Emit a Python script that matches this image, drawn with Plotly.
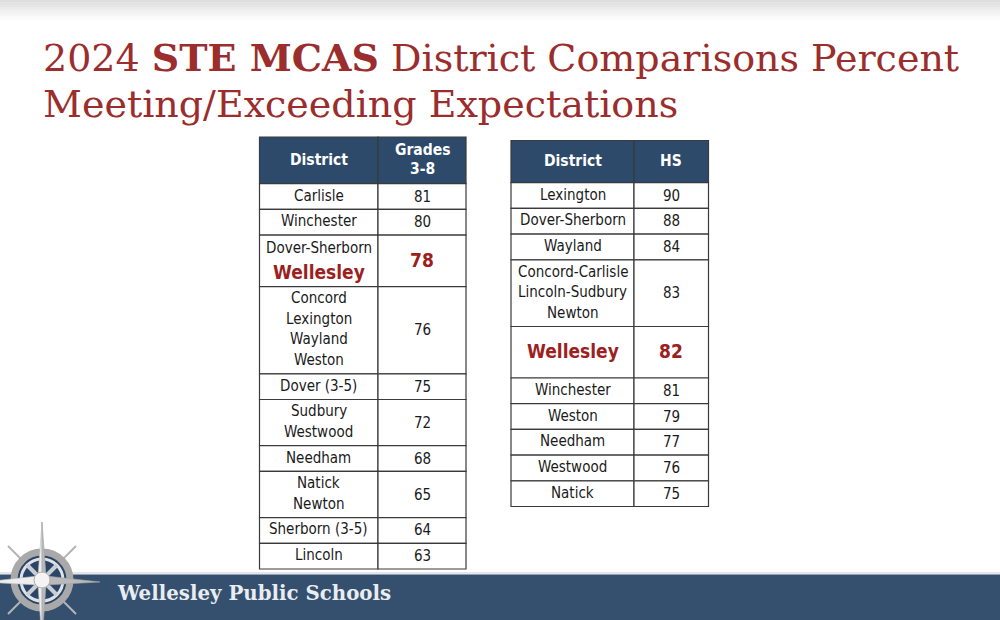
import plotly.graph_objects as go

# ---------------- data ----------------
title_line1 = "2024 <b>STE MCAS</b> District Comparisons Percent"
title_line2 = "Meeting/Exceeding Expectations"
footer_text = "Wellesley Public Schools"
highlight = "Wellesley"

left_header = ["District", "Grades<br>3-8"]
left_districts = [
    ["Carlisle"],
    ["Winchester"],
    ["Dover-Sherborn", "Wellesley"],
    ["Concord", "Lexington", "Wayland", "Weston"],
    ["Dover (3-5)"],
    ["Sudbury", "Westwood"],
    ["Needham"],
    ["Natick", "Newton"],
    ["Sherborn (3-5)"],
    ["Lincoln"],
]
left_values = [81, 80, 78, 76, 75, 72, 68, 65, 64, 63]

right_header = ["District", "HS"]
right_districts = [
    ["Lexington"],
    ["Dover-Sherborn"],
    ["Wayland"],
    ["Concord-Carlisle", "Lincoln-Sudbury", "Newton"],
    ["Wellesley"],
    ["Winchester"],
    ["Weston"],
    ["Needham"],
    ["Westwood"],
    ["Natick"],
]
right_values = [90, 88, 84, 83, 82, 81, 79, 77, 76, 75]

# ---------------- style ----------------
W, H = 1000, 620
TITLE_RED = "#9b2d2d"
HL_RED = "#9c2020"
NAVY = "#2e4a6a"
FOOT = "#34506e"
BORDER = "#3a3a3a"
BODY_FONT = "Tahoma, 'DejaVu Sans Condensed', 'Liberation Sans', Arial, sans-serif"
SERIF = "Georgia, 'DejaVu Serif', serif"
BODY_SIZE = 15
HL_SIZE = 19
LINE_H = 20.5
ROW_H1 = 25.7
HL_MIN = 51.5
HL_PITCH = 24

shapes = []
annotations = []


def rect(x0, y0, x1, y1, fill, line_color=BORDER, lw=1.2):
    shapes.append(dict(type="rect", xref="x", yref="y", x0=x0, y0=y0, x1=x1, y1=y1,
                       fillcolor=fill, line=dict(color=line_color, width=lw), layer="above"))


def text(x, y, s, size=BODY_SIZE, color="#1a1a1a", bold=False, family=BODY_FONT,
         xanchor="center", yanchor="middle"):
    if bold:
        s = "<b>" + s + "</b>"
    annotations.append(dict(x=x, y=y, xref="x", yref="y", text=s, showarrow=False,
                            xanchor=xanchor, yanchor=yanchor,
                            font=dict(family=family, size=size, color=color)))


def draw_table(x_edges, y_top, header_h, header, districts, values):
    xa, xb, xc = x_edges
    centers = [(xa + xb) / 2, (xb + xc) / 2]
    # header
    rect(xa, y_top, xb, y_top + header_h, NAVY)
    rect(xb, y_top, xc, y_top + header_h, NAVY)
    hc = y_top + header_h / 2
    for cx, lab in zip(centers, header):
        parts = lab.split("<br>")
        start = hc - 19 * (len(parts) - 1) / 2
        for k, p in enumerate(parts):
            text(cx, start + 19 * k - 0.5, p, size=15.5, color="white", bold=True)
    # body
    y = y_top + header_h
    for names, val in zip(districts, values):
        n = len(names)
        h = ROW_H1 + LINE_H * (n - 1)
        is_hl = highlight in names
        if is_hl:
            h = max(h + 5, HL_MIN)
        rect(xa, y, xb, y + h, "white")
        rect(xb, y, xc, y + h, "white")
        c = y + h / 2
        pitches = []
        for k in range(n - 1):
            pitches.append(HL_PITCH if (names[k] == highlight or names[k + 1] == highlight) else LINE_H)
        block = sum(pitches)
        ly = c - block / 2 - 1
        for k, nm in enumerate(names):
            if nm == highlight:
                text(centers[0], ly, nm, size=HL_SIZE, color=HL_RED, bold=True)
            else:
                text(centers[0], ly, nm)
            if k < len(pitches):
                ly += pitches[k]
        if is_hl:
            text(centers[1], c - 1, str(val), size=HL_SIZE, color=HL_RED, bold=True)
        else:
            text(centers[1], c, str(val))
        y += h


# top gradient band
grad = ["#dedede", "#e2e2e2", "#e6e6e6", "#eaeaea", "#eeeeee", "#f2f2f2", "#f6f6f6", "#fafafa", "#fdfdfd"]
for i, col in enumerate(grad):
    shapes.append(dict(type="rect", xref="x", yref="y", x0=0, x1=W, y0=i * 2.3, y1=(i + 1) * 2.3 + 0.3,
                       fillcolor=col, line=dict(width=0), layer="below"))

# title
text(41, 57, title_line1, size=38, color=TITLE_RED, family=SERIF, xanchor="left")
text(41, 103.5, title_line2, size=38, color=TITLE_RED, family=SERIF, xanchor="left")

# tables
draw_table((259.5, 378, 466), 137, 46.7, left_header, left_districts, left_values)
draw_table((511, 634, 708.5), 140.5, 42.2, right_header, right_districts, right_values)

# footer band
shapes.append(dict(type="rect", xref="x", yref="y", x0=0, x1=W, y0=572, y1=574.5,
                   fillcolor="#e6e6e6", line=dict(width=0), layer="above"))
shapes.append(dict(type="rect", xref="x", yref="y", x0=0, x1=W, y0=574.5, y1=H + 2,
                   fillcolor=FOOT, line=dict(width=0), layer="above"))
text(115, 592.5, footer_text, size=19.8, color="#e9edf2", bold=True, family=SERIF, xanchor="left")

# compass emblem
cx, cy = 42, 580
for ang_pts in [((cx - 34, cy - 34), (cx + 34, cy + 34)), ((cx - 34, cy + 34), (cx + 34, cy - 34))]:
    (ax, ay), (bx, by) = ang_pts
    shapes.append(dict(type="line", xref="x", yref="y", x0=ax, y0=ay, x1=bx, y1=by,
                       line=dict(color="#b5b5b5", width=2), layer="above"))
shapes.append(dict(type="circle", xref="x", yref="y", x0=cx - 28, y0=cy - 28, x1=cx + 28, y1=cy + 28,
                   fillcolor="#2b4566", line=dict(color="#a9a9a9", width=7), layer="above"))
shapes.append(dict(type="circle", xref="x", yref="y", x0=cx - 21, y0=cy - 21, x1=cx + 21, y1=cy + 21,
                   fillcolor="rgba(0,0,0,0)", line=dict(color="#dfe3e8", width=3), layer="above"))
for (ax, ay), (bx, by) in [((cx - 15, cy - 15), (cx + 15, cy + 15)), ((cx - 15, cy + 15), (cx + 15, cy - 15))]:
    shapes.append(dict(type="line", xref="x", yref="y", x0=ax, y0=ay, x1=bx, y1=by,
                       line=dict(color="#c9ced4", width=4), layer="above"))
star_light = f"M {cx},{cy-58} L {cx-4},{cy-4} L {cx-58},{cy+2} L {cx-4},{cy+5} L {cx},{cy+62} L {cx},{cy} Z"
star_dark = f"M {cx},{cy-58} L {cx+4},{cy-4} L {cx+58},{cy+2} L {cx+4},{cy+5} L {cx},{cy+62} L {cx},{cy} Z"
shapes.append(dict(type="path", xref="x", yref="y", path=star_light, fillcolor="#eeeeee",
                   line=dict(color="#bdbdbd", width=0.6), layer="above"))
shapes.append(dict(type="path", xref="x", yref="y", path=star_dark, fillcolor="#b9b9b9",
                   line=dict(color="#a5a5a5", width=0.6), layer="above"))
shapes.append(dict(type="circle", xref="x", yref="y", x0=cx - 8, y0=cy - 8, x1=cx + 8, y1=cy + 8,
                   fillcolor="#f4f4f4", line=dict(color="#b0b0b0", width=1), layer="above"))

fig = go.Figure()
fig.update_layout(
    width=W, height=H,
    margin=dict(l=0, r=0, t=0, b=0),
    paper_bgcolor="white", plot_bgcolor="white",
    xaxis=dict(range=[0, W], visible=False, showgrid=False, zeroline=False, fixedrange=True),
    yaxis=dict(range=[H, 0], visible=False, showgrid=False, zeroline=False, fixedrange=True),
    shapes=shapes, annotations=annotations, showlegend=False,
)
fig.write_html(
    "out.html",
    config={"displayModeBar": False},
    post_script="document.body.style.margin='0';document.body.style.overflow='hidden';",
)
